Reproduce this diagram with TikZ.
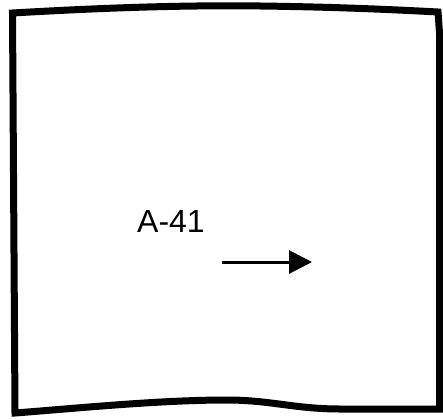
\documentclass[tikz,border=0pt]{standalone}
\usepackage{fontspec}
\setmainfont{Liberation Sans}
\usetikzlibrary{arrows.meta, positioning}

\begin{document}
\begin{tikzpicture}[
  x=1pt, y=-1pt,
  frame/.style={draw=black, line width=7pt, line join=miter},
  lbl/.style={font=\fontsize{32}{36}\selectfont, inner sep=0pt},
  arr/.style={-{Triangle[length=23pt, width=23pt]}, line width=3pt}
]
  \useasboundingbox (0,0) rectangle (443,419);
  % wobbly frame
  \draw[frame] (12.5,13) .. controls (100,8) and (180,5) .. (260,6)
    .. controls (340,7) and (400,10) .. (438,12) -- (439.5,33) -- (439.5,409)
    -- (340,409) .. controls (295,409) and (270,400) .. (227,400)
    .. controls (160,400) and (80,408) .. (15,413) -- cycle;
  \node[lbl, anchor=base] (name) at (171,232) {A-41};
  \coordinate (arrS) at (222,262);
  \coordinate (arrE) at (312,262);
  \draw[arr] (arrS) -- (arrE);
\end{tikzpicture}
\end{document}
